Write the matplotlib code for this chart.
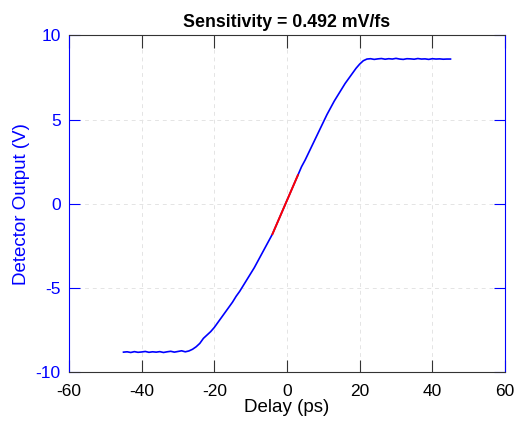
import numpy as np
import matplotlib
matplotlib.use('Agg')
import matplotlib.pyplot as plt

# delay scan (ps) and detector output (V)
delay = np.arange(-45, 46, 1)
output = [
    -8.82, -8.80, -8.84, -8.79, -8.83, -8.81, -8.78, -8.83, -8.80, -8.82,   # -45..-36
    -8.79, -8.84, -8.80, -8.77, -8.82, -8.78, -8.74, -8.80,                 # -35..-28
    -8.75, -8.65, -8.50, -8.30, -8.00, -7.80, -7.60, -7.35,                 # -27..-20
    -7.05, -6.75, -6.45, -6.15, -5.85, -5.50, -5.20, -4.85, -4.50, -4.15,   # -19..-10
    -3.80, -3.40, -3.00, -2.60, -2.20, -1.80, -1.30, -0.80, -0.30,          # -9..-1
    0.20, 0.70, 1.20, 1.70, 2.20, 2.60, 3.05, 3.50, 3.95, 4.40,             # 0..9
    4.85, 5.30, 5.70, 6.10, 6.45, 6.80, 7.15, 7.45, 7.75, 8.05,             # 10..19
    8.30, 8.50, 8.60, 8.62, 8.58, 8.61, 8.63, 8.59, 8.62, 8.60,             # 20..29
    8.64, 8.60, 8.58, 8.62, 8.61, 8.59, 8.63, 8.60, 8.61, 8.58,             # 30..39
    8.62, 8.60, 8.61, 8.59, 8.60, 8.60,                                     # 40..45
]
output = np.array(output)

# linear region used for the sensitivity fit
fit_lo, fit_hi = -4, 3
sensitivity = 0.492  # mV/fs

plt.rcParams['font.family'] = ['Liberation Sans', 'DejaVu Sans']
plt.rcParams['axes.unicode_minus'] = False

fig = plt.figure(figsize=(5.16, 4.22), dpi=100)
ax = fig.add_axes([0.1337, 0.1185, 0.8450, 0.7974])

ax.plot(delay, output, color='#0000ff', lw=1.2)
m = (delay >= fit_lo) & (delay <= fit_hi)
ax.plot(delay[m], output[m], color='#ff0000', lw=1.4)

ax.set_xlim(-60, 60)
ax.set_ylim(-10, 10)
ax.set_xticks(np.arange(-60, 61, 20))
ax.set_yticks(np.arange(-10, 11, 5))
ax.grid(True, ls=(0, (4, 4)), color='#e4e4e4', lw=0.7)

ax.tick_params(axis='x', direction='in', length=9, width=0.8, top=True,
               labelsize=12.5, pad=9, color='#333333')
ax.tick_params(axis='y', direction='in', length=8, width=0.8, right=True,
               labelsize=12.5, pad=6, color='#0000ff', labelcolor='#0000ff')
for s in ['left', 'right']:
    ax.spines[s].set_color('#0000ff')
for s in ['top', 'bottom']:
    ax.spines[s].set_color('#333333')

ax.set_xlabel('Delay (ps)', fontsize=13.5, labelpad=0)
ax.set_ylabel('Detector Output (V)', fontsize=13.5, color='#0000ff', labelpad=4)
ax.set_title('Sensitivity = %.3f mV/fs' % sensitivity, fontsize=12.8,
             fontweight='bold', pad=6)

fig.savefig('out.png', dpi=100)
